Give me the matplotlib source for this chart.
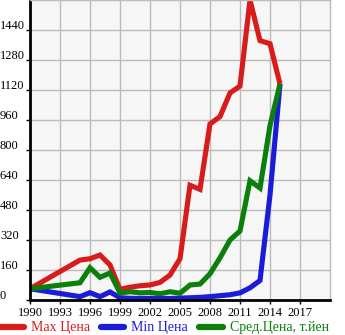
import matplotlib
matplotlib.use("Agg")
import matplotlib.pyplot as plt
from matplotlib.transforms import blended_transform_factory, ScaledTranslation

years = [1990, 1995, 1996, 1997, 1998, 1999, 2000, 2001, 2002, 2003, 2004,
         2005, 2006, 2007, 2008, 2009, 2010, 2011, 2012, 2013, 2014, 2015]
max_price = [60, 213, 220, 240, 187, 57, 68, 76, 80, 94, 133,
             220, 612, 590, 939, 978, 1104, 1141, 1600, 1383, 1367, 1152]
min_price = [60, 18, 39, 18, 43, 12, 9, 8, 8, 8, 8,
             10, 12, 14, 18, 23, 28, 38, 65, 104, 560, 1152]
avg_price = [60, 92, 172, 121, 144, 38, 44, 38, 40, 33, 44,
             36, 80, 85, 140, 225, 320, 368, 636, 597, 930, 1152]

x_ticks = [1990, 1993, 1996, 1999, 2002, 2005, 2008, 2011, 2014, 2017]
y_ticks = [0, 160, 320, 480, 640, 800, 960, 1120, 1280, 1440]
labels = ["Max Цена", "Min Цена", "Сред.Цена, т.йен"]
colors = ["#d81c1c", "#1c1cd8", "#0a7f0a"]

plt.rcParams["font.family"] = ["Liberation Serif", "DejaVu Serif"]

W, H = 345, 335
fig = plt.figure(figsize=(W / 100, H / 100), dpi=100)
ax = fig.add_axes([30 / W, (H - 300) / H, 300 / W, 300 / H])
ax.set_facecolor("#f6f6f6")

for series, lab, col in zip([max_price, min_price, avg_price], labels, colors):
    ax.plot(years, series, color=col, lw=3.7, label=lab,
            solid_joinstyle="miter", solid_capstyle="butt")

ax.set_xlim(1990, 2020)
ax.set_ylim(0, 1600)
ax.set_xticks(x_ticks)
ax.set_xticklabels([str(v) for v in x_ticks], fontsize=9)
ax.set_yticks(y_ticks)
ax.set_yticklabels([])
ax.grid(True, color="#bbbbbb", lw=1)
ax.set_axisbelow(True)

ax.tick_params(axis="y", length=3, width=1, color="black", direction="out")
ax.tick_params(axis="x", length=3, width=1, color="black", direction="out", pad=2)

for side in ("top", "right"):
    ax.spines[side].set_color("#bbbbbb")
    ax.spines[side].set_linewidth(1)
for side in ("left", "bottom"):
    ax.spines[side].set_color("black")
    ax.spines[side].set_linewidth(2)

# y tick labels: flush left, sitting slightly above their gridline
tr = blended_transform_factory(fig.transFigure, ax.transData) + \
    ScaledTranslation(0, 4 / 100, fig.dpi_scale_trans)
for v in y_ticks:
    ax.text(0.0, v, str(v), transform=tr, ha="left", va="center",
            fontsize=9, clip_on=False)

leg = ax.legend(loc="center left", bbox_to_anchor=(-30 / 300, -28 / 300),
                ncol=3, frameon=False, fontsize=10, handlelength=1.7,
                handletextpad=0.5, columnspacing=0.8, borderaxespad=0,
                borderpad=0, labelcolor="linecolor")
for h in leg.get_lines():
    h.set_linewidth(4.5)
    h.set_solid_capstyle("round")

fig.savefig("out.png", dpi=100)
